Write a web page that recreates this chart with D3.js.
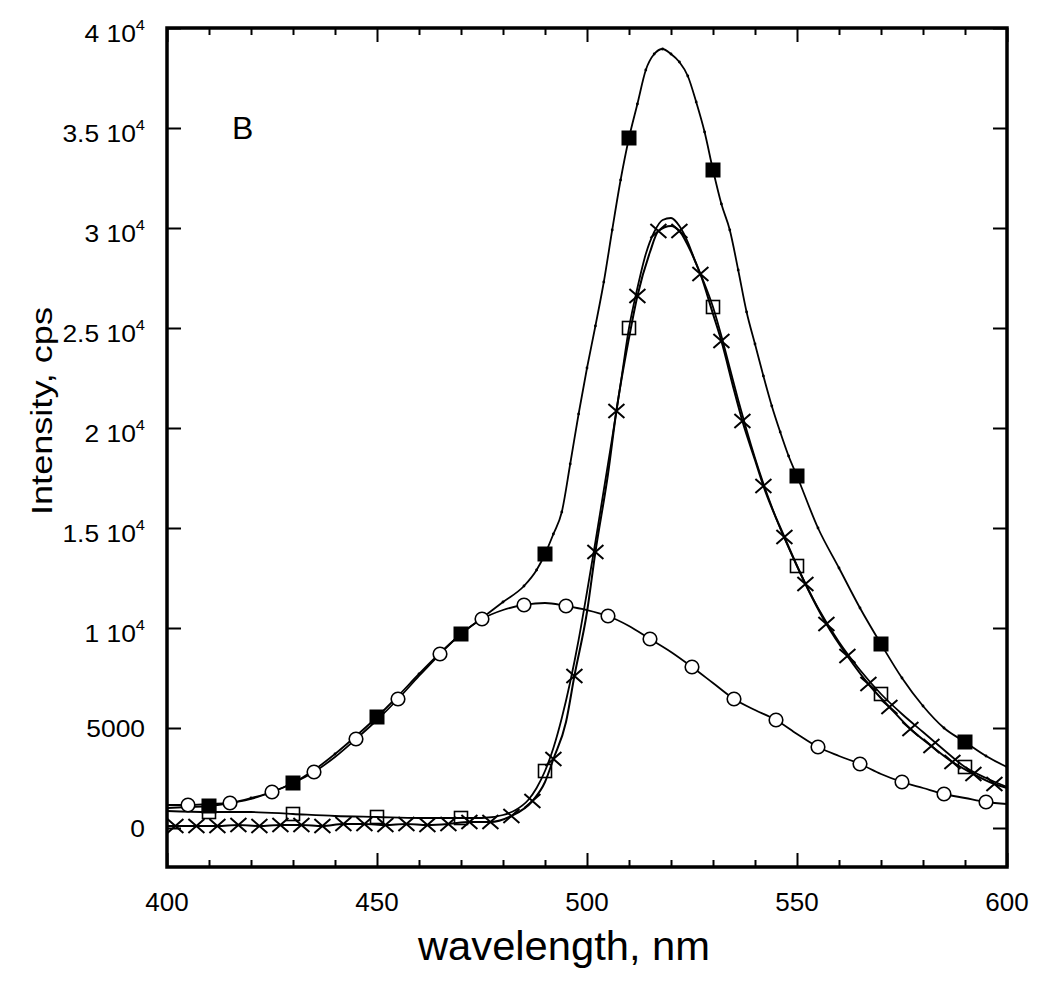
<!DOCTYPE html>
<html><head><meta charset="utf-8">
<script src="https://cdn.jsdelivr.net/npm/d3@7"></script>
<style>
body{margin:0;background:#fff}
svg{display:block}
text{font-family:"Liberation Sans",Arial,sans-serif;fill:#000}
</style>
</head><body>
<svg id="c" width="1050" height="999"></svg>
<script>
// ---------------- data ----------------
const wlFilled = [400,405,410,415,420,425,430,435,440,445,450,455,460,465,470,475,480,485,488,
  490,492,494,496,498,500,502,504,506,508,510,512,514,516,518,520,522,524,526,528,530,
  532,534,536,538,540,542,544,546,548,550,555,560,565,570,575,580,585,590,595,600];
const valFilled = [1000,1050,1100,1250,1500,1800,2250,2900,3700,4600,5550,6600,7700,8750,9700,10500,11300,12100,12900,
  13700,14700,15800,18200,20700,23000,25100,27300,29900,32400,34500,36200,37900,38700,38950,38700,38300,37600,36300,34800,32900,
  31200,29900,27900,25800,24200,22600,21100,19800,18600,17600,15000,13000,11000,9200,7500,6100,5000,4300,3600,3050];
const markFilled = [410,430,450,470,490,510,530,550,570,590];

const wlCircle = [400,405,410,415,420,425,430,435,440,445,450,455,460,465,470,475,480,485,490,495,
  500,505,510,515,520,525,530,535,540,545,550,555,560,565,570,575,580,585,590,595,600];
const valCircle = [1150,1150,1200,1250,1450,1800,2250,2800,3550,4450,5400,6450,7600,8700,9700,10450,10900,11150,11250,11100,
  10900,10600,10100,9450,8800,8050,7250,6450,5900,5400,4700,4050,3600,3200,2700,2300,2000,1700,1500,1300,1200];
const markCircle = [405,415,425,435,445,455,465,475,485,495,505,515,525,535,545,555,565,575,585,595];

const wlOpen = [400,410,420,430,440,450,460,470,475,480,483,486,488,490,492,494,496,498,500,502,
  504,506,508,510,512,514,516,518,520,522,524,526,528,530,532,534,536,538,540,545,
  550,555,560,565,570,575,580,585,590,595,600];
const valOpen = [850,800,800,700,600,550,500,500,500,650,900,1400,2000,2850,4000,5500,7300,9400,11800,14300,
  16900,19500,22200,25000,27000,28700,29800,30400,30500,30100,29300,28200,27200,26050,24600,23000,21400,19900,18500,15500,
  13100,11000,9300,7900,6700,5700,4800,3900,3050,2500,2050];
const markOpen = [410,430,450,470,490,510,530,550,570,590];

const wlCross = [400,402,407,412,417,422,427,432,437,442,447,452,457,462,467,472,477,482,487,490,
  492,495,497,500,502,505,507,510,512,515,517,520,522,525,527,530,532,535,537,540,
  542,547,552,557,562,567,572,577,582,587,592,597,600];
const valCross = [100,100,100,100,150,100,150,150,100,200,200,150,200,150,200,300,300,600,1350,2300,
  3450,5300,7600,10800,13800,17700,20850,24500,26600,28800,29850,30100,29850,28700,27700,25700,24350,21900,20350,18400,
  17100,14550,12200,10200,8600,7200,6050,4950,4100,3300,2700,2200,2000];
const markCross = [402,407,412,417,422,427,432,437,442,447,452,457,462,467,472,477,482,487,492,497,
  502,507,512,517,522,527,532,537,542,547,552,557,562,567,572,577,582,587,592,597];

const xMajorTicks = [400,450,500,550,600];
const xMinorTicks = [410,420,430,440,460,470,480,490,510,520,530,540,560,570,580,590];
const xTickLabels = ["400","450","500","550","600"];
const yTicks = [0,5000,10000,15000,20000,25000,30000,35000,40000];
const yTickMantissa = ["0","5000","1","1.5","2","2.5","3","3.5","4"];
const yTickExponent = ["","","4","4","4","4","4","4","4"];
const xTitle = "wavelength, nm";
const yTitle = "Intensity, cps";
const panelLabel = "B";

// ---------------- chart ----------------
const svg = d3.select("#c");
const x = d3.scaleLinear().domain([400,600]).range([167,1007]);
const y = d3.scaleLinear().domain([-1950,40000]).range([867,28]);
const X0 = x.range()[0], X1 = x.range()[1], Y0 = y.range()[1], Y1 = y.range()[0];

svg.append("defs").append("clipPath").attr("id","clip")
  .append("rect").attr("x",X0).attr("y",Y0).attr("width",X1-X0).attr("height",Y1-Y0);

function styleAxis(g){ g.select(".domain").remove(); g.selectAll("line").attr("stroke","#000").attr("stroke-width",2); }
svg.append("g").attr("transform",`translate(0,${Y1})`)
  .call(d3.axisBottom(x).tickValues(xMajorTicks).tickSizeInner(-14).tickSizeOuter(0).tickFormat("")).call(styleAxis);
svg.append("g").attr("transform",`translate(0,${Y1})`)
  .call(d3.axisBottom(x).tickValues(xMinorTicks).tickSizeInner(-7).tickSizeOuter(0).tickFormat("")).call(styleAxis);
svg.append("g").attr("transform",`translate(0,${Y0})`)
  .call(d3.axisTop(x).tickValues(xMajorTicks).tickSizeInner(-14).tickSizeOuter(0).tickFormat("")).call(styleAxis);
svg.append("g").attr("transform",`translate(0,${Y0})`)
  .call(d3.axisTop(x).tickValues(xMinorTicks).tickSizeInner(-7).tickSizeOuter(0).tickFormat("")).call(styleAxis);
svg.append("g").attr("transform",`translate(${X0},0)`)
  .call(d3.axisLeft(y).tickValues(yTicks).tickSizeInner(-14).tickSizeOuter(0).tickFormat("")).call(styleAxis);
svg.append("g").attr("transform",`translate(${X1},0)`)
  .call(d3.axisRight(y).tickValues(yTicks).tickSizeInner(-14).tickSizeOuter(0).tickFormat("")).call(styleAxis);

svg.append("rect").attr("x",X0).attr("y",Y0).attr("width",X1-X0).attr("height",Y1-Y0)
  .attr("fill","none").attr("stroke","#000").attr("stroke-width",3.5);

svg.append("g").selectAll("text").data(xMajorTicks).join("text")
  .attr("x",d=>x(d)).attr("y",911).attr("text-anchor","middle").attr("font-size",26)
  .text((d,i)=>xTickLabels[i]);

const yl = svg.append("g").selectAll("g").data(yTicks).join("g")
  .attr("transform",(d,i)=>`translate(145,${y(d) + (yTickExponent[i] ? 14 : 9)}) scale(1.1,1)`);
yl.append("text").attr("text-anchor","end").attr("font-size",24)
  .each(function(d,i){
    const t = d3.select(this);
    if(yTickExponent[i]){
      t.append("tspan").text(yTickMantissa[i] + " 10");
      t.append("tspan").attr("font-size",15).attr("dy",-12).text(yTickExponent[i]);
    } else {
      t.text(yTickMantissa[i]);
    }
  });

svg.append("text").attr("x",564).attr("y",960).attr("text-anchor","middle")
  .attr("font-size",40).attr("textLength",292).attr("lengthAdjust","spacingAndGlyphs").text(xTitle);
svg.append("text").attr("transform","translate(52,411) rotate(-90)").attr("text-anchor","middle")
  .attr("font-size",29).attr("textLength",208).attr("lengthAdjust","spacingAndGlyphs").text(yTitle);
svg.append("text").attr("x",232).attr("y",139).attr("font-size",32).text(panelLabel);

const plot = svg.append("g").attr("clip-path","url(#clip)");
const line = d3.line().x(d=>x(d[0])).y(d=>y(d[1])).curve(d3.curveMonotoneX);
const zip = (a,b)=>a.map((w,i)=>[w,b[i]]);
const sFilled = zip(wlFilled,valFilled), sCircle = zip(wlCircle,valCircle),
      sOpen = zip(wlOpen,valOpen), sCross = zip(wlCross,valCross);

[[sCircle,1.8],[sOpen,1.8],[sCross,2],[sFilled,1.8]].forEach(([s,w])=>{
  plot.append("path").datum(s).attr("d",line).attr("fill","none").attr("stroke","#000").attr("stroke-width",w);
});

plot.append("g").selectAll("circle").data(sFilled).join("circle")
  .attr("cx",d=>x(d[0])).attr("cy",d=>y(d[1])).attr("r",1.4).attr("fill","#000");

const pick = (s,m)=>s.filter(d=>m.includes(d[0]));
plot.append("g").selectAll("path").data(pick(sCross,markCross)).join("path")
  .attr("transform",d=>`translate(${x(d[0])},${y(d[1])})`)
  .attr("d","M-8,-7L8,7M-8,7L8,-7").attr("stroke","#000").attr("stroke-width",2).attr("fill","none");
plot.append("g").selectAll("circle").data(pick(sCircle,markCircle)).join("circle")
  .attr("cx",d=>x(d[0])).attr("cy",d=>y(d[1])).attr("r",6.8)
  .attr("fill","#fff").attr("stroke","#000").attr("stroke-width",1.6);
plot.append("g").selectAll("rect").data(pick(sOpen,markOpen)).join("rect")
  .attr("x",d=>x(d[0])-6.5).attr("y",d=>y(d[1])-6.5).attr("width",13).attr("height",13)
  .attr("fill","none").attr("stroke","#000").attr("stroke-width",1.6);
plot.append("g").selectAll("rect").data(pick(sFilled,markFilled)).join("rect")
  .attr("x",d=>x(d[0])-7.5).attr("y",d=>y(d[1])-7.5).attr("width",15).attr("height",15)
  .attr("fill","#000");
</script>
</body></html>
